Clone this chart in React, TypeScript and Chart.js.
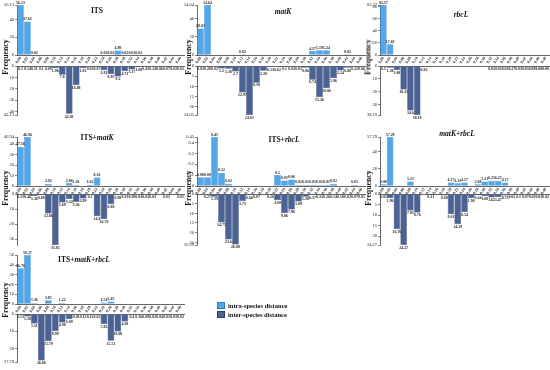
import React, { useEffect, useRef } from "react";
import { Chart, registerables } from "chart.js";

Chart.register(...registerables);

// ---------- data ----------
const LABELS_24 = ["0.00","0.02","0.04","0.06","0.08","0.10","0.12","0.14","0.16","0.18","0.20","0.22","0.24","0.26","0.28","0.30","0.32","0.34","0.36","0.38","0.40","0.42","0.44","0.46"];
const LABELS_25 = ["0.00","0.02","0.04","0.06","0.08","0.10","0.12","0.14","0.16","0.18","0.20","0.22","0.24","0.26","0.28","0.30","0.32","0.34","0.36","0.38","0.40","0.42","0.44","0.46","0.48"];

const ITS_INTRA = [56.13, 37.63, 0.02, 0, 0, 0, 0, 0, 0, 0, 0, 0, 0.02, 0.02, 4.98, 0.02, 0.02, 0.02, 0, 0, 0, 0, 0, 0];
const ITS_INTER = [0.1, 0.14, 0.11, 0.1, 0.09, 1.96, 7.6, 42.03, 16.88, 1.92, 0.03, 0.07, 3.81, 6.95, 9.2, 4.73, 3.17, 1.08, 0.43, 0.24, 0.06, 0.07, 0.03, 0.02];
const ITS_TOP_TICKS = [0, 10, 20, 30, 40, 50, 56.13];
const ITS_BOT_TICKS = [0, 10, 20, 30, 40, 43.13];

const MATK_INTRA = [28.83, 54.64, 0, 0, 0, 0, 0.82, 0, 0, 0, 0, 0, 0, 0, 0, 0, 4.37, 5.19, 5.24, 0, 0, 0.82, 0, 0];
const MATK_INTER = [0.03, 0.28, 0.03, 1.2, 1.38, 2.7, 12.97, 24.05, 8.18, 2.38, 0.53, 0.62, 0.1, 0.02, 0.03, 0.86, 6.74, 15.36, 10.86, 5.96, 2.24, 0.88, 0.22, 0.06];
const MATK_TOP_TICKS = [0, 10, 20, 30, 40, 50, 54.64];
const MATK_BOT_TICKS = [0, 5, 10, 15, 20, 24.05];

const RBCL_INTRA = [82.37, 17.63, 0, 0, 0, 0, 0, 0, 0, 0, 0, 0, 0, 0, 0, 0, 0, 0, 0, 0, 0, 0, 0, 0, 0];
const RBCL_INTER = [0.3, 1.38, 3.08, 18.35, 34.6, 38.19, 0.82, 0, 0, 0, 0, 0, 0, 0, 0, 0, 0.01, 0.02, 0.03, 0.27, 0.03, 0.03, 0.09, 0.08, 0.08];
const RBCL_TOP_TICKS = [0, 20, 40, 60, 80, 82.37];
const RBCL_BOT_TICKS = [0, 10, 20, 30, 38.19];

const IM_INTRA = [37.56, 46.94, 0, 0, 2.02, 0, 0, 2.86, 1.02, 0, 1.02, 8.16, 0, 0, 0, 0, 0, 0, 0, 0, 0, 0, 0, 0];
const IM_INTER = [0.13, 0.48, 1.36, 0.88, 12.86, 33.85, 5.69, 3.34, 5.36, 2.99, 0.1, 14.8, 16.76, 6.88, 0.89, 0.33, 0.38, 0.03, 0.02, 0.02, 0, 0.03, 0, 0.01];
const IM_TOP_TICKS = [0, 10, 20, 30, 40, 46.94];
const IM_BOT_TICKS = [0, 5, 10, 15, 20, 25, 30, 33.85];

const IR_INTRA = [0.08, 0.08, 0.45, 0.12, 0.02, 0, 0, 0, 0, 0, 0, 0.1, 0.05, 0.06, 0.01, 0.01, 0.01, 0.01, 0.01, 0.02, 0, 0, 0.01, 0];
const IR_INTER = [0, 0.27, 1.39, 14.75, 23.6, 26.08, 3.73, 0.66, 0.07, 0, 0.26, 3.09, 9.86, 7.96, 3.89, 1.38, 0.57, 0.33, 0.26, 0.14, 0.18, 0.03, 0.07, 0.05];
const IR_TOP_TICKS = [0, 0.1, 0.2, 0.3, 0.4, 0.45];
const IR_BOT_TICKS = [0, 5, 10, 15, 20, 25, 26.39];

const MR_INTRA = [2.08, 57.29, 0, 0, 5.21, 0, 0, 0, 0, 0, 4.17, 3.13, 4.17, 0, 2.08, 5.21, 6.25, 6.25, 4.17, 0, 0, 0, 0, 0, 0];
const MR_INTER = [0.03, 1.96, 16.76, 24.27, 7.91, 8.76, 0, 0.31, 0, 0.68, 9.63, 14.29, 8.54, 1.96, 0.44, 1.08, 1.62, 1.47, 0.73, 0.02, 0.1, 0.07, 0.03, 0.03, 0.02];
const MR_TOP_TICKS = [0, 10, 20, 30, 40, 50, 57.29];
const MR_BOT_TICKS = [0, 5, 10, 15, 20, 24.27];

const IMR_INTRA = [36.76, 50.27, 1.36, 0, 3.85, 0, 1.22, 0, 0, 0, 0, 0, 1.54, 2.45, 0, 0, 0, 0, 0, 0, 0, 0, 0, 0];
const IMR_INTER = [0.13, 1.38, 5.51, 26.86, 15.79, 9.99, 4.98, 3.09, 0.03, 0.13, 0.12, 0.02, 5.82, 15.51, 10.08, 4.38, 0.4, 0.16, 0.09, 0.02, 0.04, 0.03, 0.03, 0.02];
const IMR_TOP_TICKS = [0, 10, 20, 30, 40, 50];
const IMR_TOP_MAX = 50.27;
const IMR_BOT_TICKS = [0, 5, 10, 15, 20, 25, 27.78];

const LEGEND_LABELS = ["intra-species distance", "inter-species distance"];

// ---------- style ----------
const FONT = '"Liberation Serif", "Times New Roman", serif';
const LIGHT = "#52a6ea";
const LIGHT_EDGE = "#2f7cc4";
const DARK = "#4b6294";
const DARK_EDGE = "#2b3d66";
const YW = 17;
const PT = 4;
const PB = 9;
const PR = 2;

const valueLabels = {
  id: "valueLabels",
  afterDatasetsDraw(chart: any, _a: any, opts: any) {
    const ctx = chart.ctx;
    const meta = chart.getDatasetMeta(0);
    const vals = chart.data.datasets[0].data as number[];
    ctx.save();
    ctx.font = `bold 3.9px ${FONT}`;
    ctx.fillStyle = "#222";
    ctx.textAlign = "center";
    ctx.textBaseline = opts.down ? "top" : "bottom";
    meta.data.forEach((bar: any, i: number) => {
      const v = vals[i];
      if (!v) return;
      ctx.fillText(String(v), bar.x, opts.down ? bar.y + 0.8 : bar.y - 0.5);
    });
    ctx.restore();
  },
};

function HalfChart(props: any) {
  const { left, top, width, height, labels, values, ticks, max, down, xh } = props;
  const ref = useRef<HTMLCanvasElement>(null);
  useEffect(() => {
    const chart = new Chart(ref.current as HTMLCanvasElement, {
      type: "bar",
      data: {
        labels,
        datasets: [
          {
            data: values,
            backgroundColor: down ? DARK : LIGHT,
            borderColor: down ? DARK_EDGE : LIGHT_EDGE,
            borderWidth: 0.5,
            categoryPercentage: 1,
            barPercentage: 0.97,
          },
        ],
      },
      options: {
        animation: false,
        responsive: false,
        maintainAspectRatio: false,
        devicePixelRatio: 1,
        layout: { padding: { top: PT, right: PR, bottom: down ? PB : 0, left: 0 } },
        plugins: {
          legend: { display: false },
          tooltip: { enabled: false },
          valueLabels: { down },
        } as any,
        scales: {
          x: down
            ? {
                position: "top",
                grid: { display: false, drawTicks: false },
                ticks: { display: false },
                border: { color: "#000", width: 0.6 },
                afterFit: (s: any) => {
                  s.height = 0;
                },
              }
            : {
                grid: { display: false, drawTicks: false },
                border: { color: "#000", width: 0.6 },
                ticks: {
                  autoSkip: false,
                  minRotation: 55,
                  maxRotation: 55,
                  padding: 1,
                  color: "#222",
                  font: { family: FONT, size: 4, weight: "bold" },
                },
                afterFit: (s: any) => {
                  s.height = xh;
                },
              },
          y: {
            reverse: !!down,
            min: 0,
            max,
            grid: { display: true, drawOnChartArea: false, drawTicks: true, tickLength: 2, color: "#000", lineWidth: 0.5 },
            border: { color: "#000", width: 0.6 },
            ticks: { padding: 1, color: "#222", font: { family: FONT, size: 4.5 }, callback: (v: any) => String(v) },
            afterBuildTicks: (s: any) => {
              s.ticks = ticks.map((v: number) => ({ value: v }));
            },
            afterFit: (s: any) => {
              s.width = YW;
            },
          },
        } as any,
      },
      plugins: [valueLabels as any],
    });
    return () => chart.destroy();
  }, []);
  return <canvas ref={ref} width={width} height={height} style={{ position: "absolute", left, top, width, height }} />;
}

const COLS = [
  { axisX: 17, rightX: 184, fx: 5 },
  { axisX: 197, rightX: 365, fx: 188 },
  { axisX: 380, rightX: 549, fx: 368 },
];
const ROWS = [
  { topY: 5, baseY: 55, botTopY: 66, botY: 115, fy: 57 },
  { topY: 137, baseY: 186, botTopY: 194, botY: 245, fy: 188 },
  { topY: 255, baseY: 304, botTopY: 314, botY: 362, fy: 300 },
];

function Panel(props: any) {
  const { col, row, labels, intra, inter, topTicks, botTicks, topMax, title, tx, ty } = props;
  const c = COLS[col];
  const r = ROWS[row];
  const left = c.axisX - YW;
  const width = c.rightX - left + PR;
  const xh = r.botTopY - r.baseY;
  return (
    <>
      <HalfChart
        left={left}
        top={r.topY - PT}
        width={width}
        height={PT + (r.baseY - r.topY) + xh}
        labels={labels}
        values={intra}
        ticks={topTicks}
        max={topMax ?? topTicks[topTicks.length - 1]}
        xh={xh}
      />
      <HalfChart
        left={left}
        top={r.botTopY - PT}
        width={width}
        height={PT + (r.botY - r.botTopY) + PB}
        labels={labels}
        values={inter}
        ticks={botTicks}
        max={botTicks[botTicks.length - 1]}
        down
      />
      <div
        style={{
          position: "absolute",
          left: tx,
          top: ty,
          transform: "translate(-50%, -50%)",
          font: `bold 7.5px ${FONT}`,
          color: "#111",
          whiteSpace: "nowrap",
        }}
      >
        {title}
      </div>
      <div
        style={{
          position: "absolute",
          left: c.fx,
          top: r.fy,
          transform: "translate(-50%, -50%) rotate(-90deg)",
          font: `bold 7.8px ${FONT}`,
          color: "#111",
          whiteSpace: "nowrap",
        }}
      >
        Frequency
      </div>
    </>
  );
}

export default function App() {
  return (
    <div style={{ position: "fixed", left: 0, top: 0, width: 550, height: 370, background: "#fff", overflow: "hidden" }}>
      <Panel col={0} row={0} labels={LABELS_24} intra={ITS_INTRA} inter={ITS_INTER} topTicks={ITS_TOP_TICKS} botTicks={ITS_BOT_TICKS} title={<>ITS</>} tx={97} ty={10} />
      <Panel col={1} row={0} labels={LABELS_24} intra={MATK_INTRA} inter={MATK_INTER} topTicks={MATK_TOP_TICKS} botTicks={MATK_BOT_TICKS} title={<i>matK</i>} tx={283} ty={11} />
      <Panel col={2} row={0} labels={LABELS_25} intra={RBCL_INTRA} inter={RBCL_INTER} topTicks={RBCL_TOP_TICKS} botTicks={RBCL_BOT_TICKS} title={<i>rbcL</i>} tx={461} ty={14} />
      <Panel col={0} row={1} labels={LABELS_24} intra={IM_INTRA} inter={IM_INTER} topTicks={IM_TOP_TICKS} botTicks={IM_BOT_TICKS} title={<>ITS+<i>matK</i></>} tx={97} ty={137} />
      <Panel col={1} row={1} labels={LABELS_24} intra={IR_INTRA} inter={IR_INTER} topTicks={IR_TOP_TICKS} botTicks={IR_BOT_TICKS} title={<>ITS+<i>rbcL</i></>} tx={284} ty={139} />
      <Panel col={2} row={1} labels={LABELS_25} intra={MR_INTRA} inter={MR_INTER} topTicks={MR_TOP_TICKS} botTicks={MR_BOT_TICKS} title={<><i>matK</i>+<i>rbcL</i></>} tx={457} ty={133} />
      <Panel col={0} row={2} labels={LABELS_24} intra={IMR_INTRA} inter={IMR_INTER} topTicks={IMR_TOP_TICKS} topMax={IMR_TOP_MAX} botTicks={IMR_BOT_TICKS} title={<>ITS+<i>matK</i>+<i>rbcL</i></>} tx={84} ty={259} />
      {LEGEND_LABELS.map((t, i) => (
        <div key={t} style={{ position: "absolute", left: 217, top: 302 + i * 9, display: "flex", alignItems: "center", font: `bold 6.5px ${FONT}`, color: "#111", whiteSpace: "nowrap" }}>
          <span style={{ display: "inline-block", width: 6, height: 5, marginRight: 3, background: i === 0 ? LIGHT : DARK, border: `0.5px solid ${i === 0 ? LIGHT_EDGE : DARK_EDGE}` }} />
          {t}
        </div>
      ))}
    </div>
  );
}
